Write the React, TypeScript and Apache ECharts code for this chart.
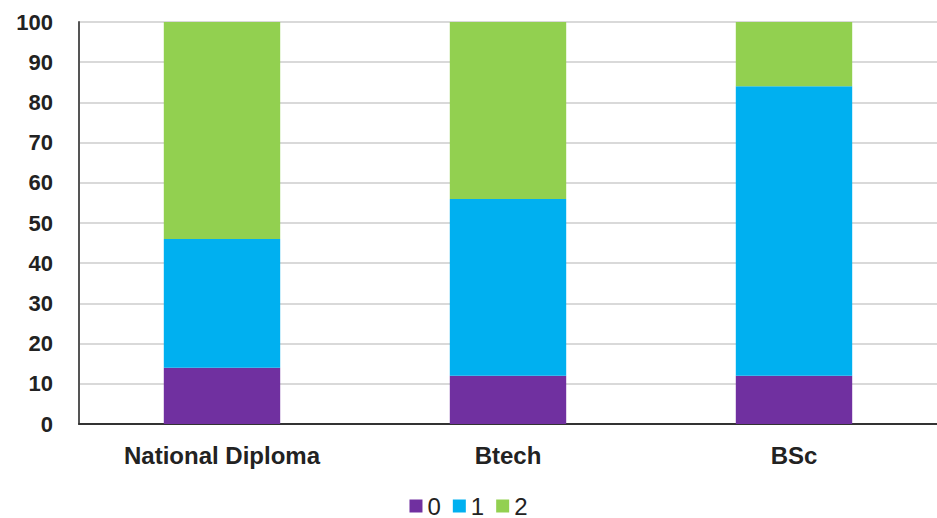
import React, { useEffect, useRef } from "react";
import * as echarts from "echarts";

const categories = ["National Diploma", "Btech", "BSc"];
const seriesNames = ["0", "1", "2"];
const values0 = [14, 12, 12];
const values1 = [32, 44, 72];
const values2 = [54, 44, 16];
const colors = ["#7030A0", "#00B0F0", "#92D050"];

export default function App() {
  const ref = useRef<HTMLDivElement>(null);
  useEffect(() => {
    if (!ref.current) return;
    const chart = echarts.init(ref.current, undefined, { renderer: "svg" });
    const data = [values0, values1, values2];
    chart.setOption({
      animation: false,
      textStyle: { fontFamily: "Liberation Sans, Arial, sans-serif" },
      grid: { left: 79, right: 0, top: 22, bottom: 94, containLabel: false },
      legend: {
        bottom: 0,
        left: "center",
        padding: [0, 5, 0, 5],
        itemWidth: 13,
        itemHeight: 13,
        itemGap: 12,
        icon: "rect",
        textStyle: { fontSize: 24, color: "#222" },
        data: seriesNames,
      },
      xAxis: {
        type: "category",
        data: categories,
        axisTick: { show: false },
        axisLine: { lineStyle: { color: "#333", width: 2 } },
        axisLabel: { fontSize: 24, fontWeight: "bold", color: "#222", margin: 19 },
      },
      yAxis: {
        type: "value",
        min: 0,
        max: 100,
        interval: 10,
        axisLine: { show: true, lineStyle: { color: "#555", width: 2 } },
        axisTick: { show: false },
        splitLine: { lineStyle: { color: "#d9d9d9", width: 2 } },
        axisLabel: { fontSize: 22, fontWeight: "bold", color: "#222", margin: 26 },
      },
      series: seriesNames.map((name, i) => ({
        name,
        type: "bar",
        stack: "total",
        data: data[i],
        barWidth: "40.7%",
        itemStyle: { color: colors[i] },
      })),
    });
    return () => chart.dispose();
  }, []);
  return (
    <div
      ref={ref}
      style={{ position: "fixed", left: 0, top: 0, width: 937, height: 518, background: "#fff" }}
    />
  );
}
